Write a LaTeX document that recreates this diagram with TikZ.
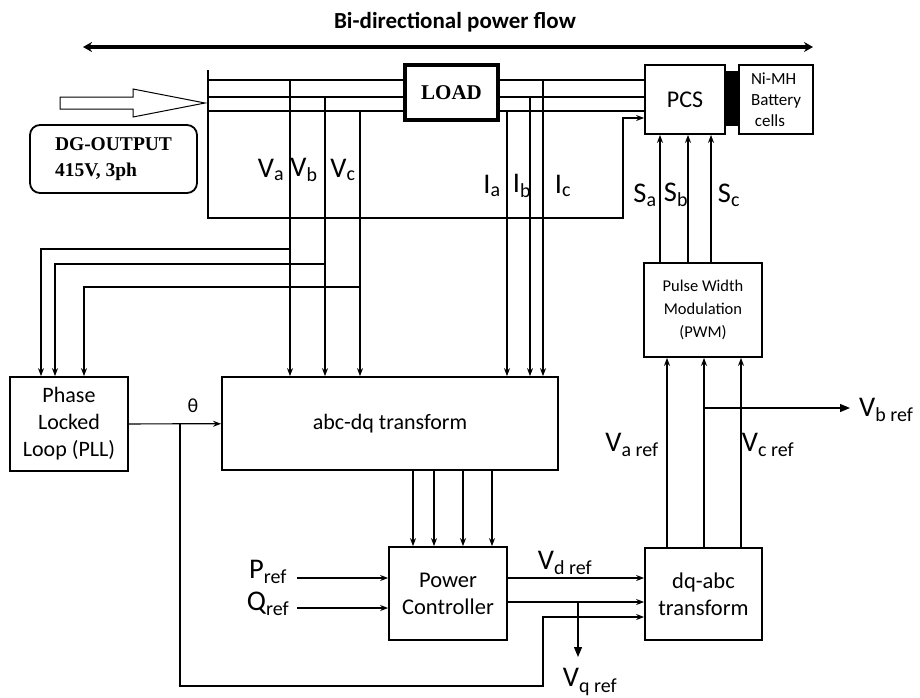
\documentclass[tikz,border=0pt]{standalone}
\usepackage{fontspec}
\setmainfont{Carlito}
\newfontfamily\tnrfont{Liberation Serif}
\usetikzlibrary{positioning,arrows.meta}

\begin{document}
\begin{tikzpicture}[x=1pt,y=-1pt,
    block/.style={
        draw,line width=1.8pt,
        inner sep=0pt,
        align=center
    },
    wire/.style={line width=1.2pt},
    sig/.style={wire,-{Stealth[length=8pt,width=6pt]}},
    bigsig/.style={wire,-{Triangle[length=10pt,width=8pt]}},
    lbl/.style={inner sep=0pt,font=\fontsize{28.5}{30}\selectfont}
]
\useasboundingbox (0,0) rectangle (920,697);

% title and power flow
\node[font=\fontsize{23}{26}\selectfont\bfseries] (flow) at (455,22) {Bi-directional power flow};
\coordinate (flowL) at (83,47);
\coordinate (flowR) at (813,47);
\draw[line width=3.6pt,{Stealth[length=9pt,width=10pt]}-{Stealth[length=9pt,width=10pt]}] (flowL) -- (flowR);

% blocks
\node[block,line width=4pt,minimum width=93pt,minimum height=55pt,
      font=\tnrfont\bfseries\fontsize{21}{22}\selectfont] (load) at (451.5,92.5) {LOAD};
\node[block,minimum width=80pt,minimum height=69pt,font=\fontsize{24}{26}\selectfont] (pcs) at (685,99.5) {PCS};
\node[block,minimum width=74pt,minimum height=69pt,align=left,
      font=\fontsize{17}{21}\selectfont] (bat) at (776,99.5) {Ni-MH\\Battery\\\ cells};
\fill ([yshift=-7pt]pcs.north east) rectangle ([yshift=9pt]bat.south west);
\node[block,rounded corners=10pt,minimum width=167pt,minimum height=68pt,align=left,
      font=\tnrfont\bfseries\fontsize{19.5}{26}\selectfont] (dg) at (113.5,159) {DG-OUTPUT\\415V, 3ph};
\node[block,minimum width=118pt,minimum height=94pt,font=\fontsize{22}{27}\selectfont] (pll) at (69,424) {Phase\\Locked\\Loop (PLL)};
\node[block,minimum width=336pt,minimum height=93pt,font=\fontsize{22}{24}\selectfont] (abc) at (390,423.5) {abc-dq transform};
\node[block,minimum width=118pt,minimum height=93pt,font=\fontsize{22.5}{27}\selectfont] (pc) at (448,593.5) {Power\\Controller};
\node[block,minimum width=117pt,minimum height=92pt,font=\fontsize{22.5}{27}\selectfont] (dqabc) at (703.5,594) {dq-abc\\transform};
\node[block,minimum width=118pt,minimum height=94pt,font=\fontsize{16.5}{23}\selectfont] (pwm) at (703,310) {Pulse Width\\Modulation\\(PWM)};

% DG input arrow
\draw[line width=1pt] (60,97) -- (133,97) -- (133,89) -- (205,103) -- (133,117) -- (133,109) -- (60,109) -- cycle;

% three phase bus
\coordinate (bustop) at (208,70);
\coordinate (busbot) at (208,218);
\coordinate (ra) at (208,80);
\coordinate (rb) at (208,97);
\coordinate (rc) at (208,111);
\foreach \r in {ra,rb,rc} {
    \draw[wire] (\r) -- (\r -| load.west);
    \draw[wire] (\r -| load.east) -- (\r -| pcs.west);
}
\coordinate (fu) at (623,118);
\draw[sig] (bustop) -- (busbot) -| (fu) -- (fu -| pcs.west);

% voltage taps
\coordinate (va) at (290,80);
\coordinate (vb) at (325,97);
\coordinate (vc) at (360,111);
\foreach \v in {va,vb,vc}
    \draw[sig] (\v) -- (\v |- abc.north);
\coordinate (pa) at (41,249);
\coordinate (pb) at (55,264);
\coordinate (pcc) at (84,287);
\draw[sig] (va |- pa) -- (pa) -- (pa |- pll.north);
\draw[sig] (vb |- pb) -- (pb) -- (pb |- pll.north);
\draw[sig] (vc |- pcc) -- (pcc) -- (pcc |- pll.north);
\node[lbl] at (271,170) {V\textsubscript{a}};
\node[lbl] at (304,170) {V\textsubscript{b}};
\node[lbl] at (343,170) {V\textsubscript{c}};

% current taps
\coordinate (ia) at (507,111);
\coordinate (ib) at (530,97);
\coordinate (ic) at (543,80);
\foreach \i in {ia,ib,ic}
    \draw[sig] (\i) -- (\i |- abc.north);
\node[lbl] at (492,186) {I\textsubscript{a}};
\node[lbl] at (522,186) {I\textsubscript{b}};
\node[lbl] at (563,186) {I\textsubscript{c}};

% switching signals
\foreach \x in {660,688,711}
    \draw[sig] (pwm.north -| \x,0) -- (pcs.south -| \x,0);
\node[lbl] at (645,195) {S\textsubscript{a}};
\node[lbl] at (676,195) {S\textsubscript{b}};
\node[lbl] at (729,195) {S\textsubscript{c}};

% PLL angle
\draw[sig] (pll) -- (abc);
\node[font=\fontsize{20}{22}\selectfont] (theta) at (193,406) {θ};
\coordinate (th) at (180,424);
\coordinate (tb) at (543,686);
\coordinate (tq) at (543,617);
\draw[sig] (th) |- (tb) -- (tq) -- (tq -| dqabc.west);

% abc-dq to power controller
\foreach \x in {413,434,463,492}
    \draw[sig] (abc.south -| \x,0) -- (pc.north -| \x,0);

% references
\coordinate (pin) at (297,578);
\coordinate (qin) at (297,608);
\draw[sig] (pin) -- (pin -| pc.west);
\draw[sig] (qin) -- (qin -| pc.west);
\node[lbl] at (268,572) {P\textsubscript{ref}};
\node[lbl] at (268,604) {Q\textsubscript{ref}};

% power controller to dq-abc
\coordinate (rowd) at (0,578);
\coordinate (rowq) at (0,602);
\draw[sig] (pc.east |- rowd) -- (dqabc.west |- rowd);
\draw[sig] (pc.east |- rowq) -- (dqabc.west |- rowq);
\coordinate (qtap) at (578,602);
\coordinate (qend) at (578,657);
\draw[bigsig] (qtap) -- (qend);
\node[lbl] at (565,563) {V\textsubscript{d ref}};
\node[lbl] at (590,682) {V\textsubscript{q ref}};

% dq-abc to PWM
\foreach \x in {667,704,741}
    \draw[sig] (dqabc.north -| \x,0) -- (pwm.south -| \x,0);
\coordinate (btap) at (704,408);
\coordinate (bend) at (850,408);
\draw[bigsig] (btap) -- (bend);
\node[lbl,anchor=west] at (859,410) {V\textsubscript{b ref}};
\node[lbl] at (632,445) {V\textsubscript{a ref}};
\node[lbl] at (768,445) {V\textsubscript{c ref}};
\end{tikzpicture}
\end{document}
